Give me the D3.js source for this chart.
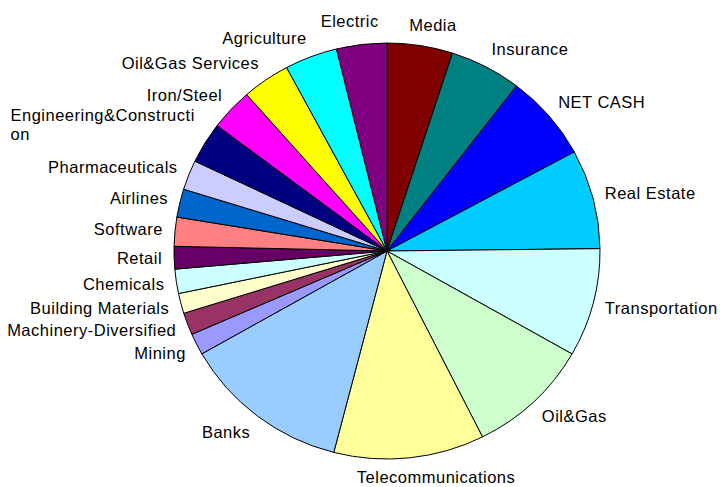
<!DOCTYPE html>
<html>
<head>
<meta charset="utf-8">
<script src="https://cdn.jsdelivr.net/npm/d3@7"></script>
<style>
  body { margin: 0; background: #fff; }
  text { font-family: "Liberation Sans", Arial, sans-serif; font-size: 16.5px; letter-spacing: 0.5px; fill: #000; }
</style>
</head>
<body>
<script>
var categories = ["Media", "Insurance", "NET CASH", "Real Estate", "Transportation", "Oil&Gas",
  "Telecommunications", "Banks", "Mining", "Machinery-Diversified", "Building Materials",
  "Chemicals", "Retail", "Software", "Airlines", "Pharmaceuticals", "Engineering&Construction",
  "Iron/Steel", "Oil&Gas Services", "Agriculture", "Electric"];
var values = [4.97, 5.44, 6.69, 7.72, 8.42, 9.36, 11.42, 12.75, 1.67, 1.72, 1.56,
  1.89, 1.75, 2.25, 2.19, 2.31, 3.19, 3.25, 3.64, 4.00, 3.81];
var colors = ["#800000", "#008080", "#0000FF", "#00CCFF", "#CCFFFF", "#CCFFCC",
  "#FFFF99", "#99CCFF", "#9999FF", "#993366", "#FFFFCC",
  "#CCFFFF", "#660066", "#FF8080", "#0066CC", "#CCCCFF", "#000080",
  "#FF00FF", "#FFFF00", "#00FFFF", "#800080"];

var width = 720, height = 487,
    cx = 387, cy = 251,
    rx = 213, ry = 208;

var svg = d3.select("body").append("svg")
    .attr("width", width)
    .attr("height", height);

var pie = d3.pie()
    .sort(null)
    .value(function(d) { return d; });

var arc = d3.arc()
    .outerRadius(rx)
    .innerRadius(0);

var arcs = pie(values);

svg.append("g")
    .attr("transform", "translate(" + cx + "," + cy + ") scale(1," + (ry / rx) + ")")
  .selectAll("path")
    .data(arcs)
  .enter().append("path")
    .attr("d", arc)
    .attr("fill", function(d, i) { return colors[i]; })
    .attr("stroke", "#000")
    .attr("stroke-width", 1)
    .attr("vector-effect", "non-scaling-stroke");

// labels: placed just outside the rim, wrapped if too wide, nudged apart on the left
var off = 12, maxW = 192, lineH = 19;

function measure(str) {
  var t = svg.append("text").text(str);
  var w = t.node().getBBox().width;
  t.remove();
  return w;
}

function wrap(str) {
  if (measure(str) <= maxW) return [str];
  var n = str.length;
  while (n > 1 && measure(str.slice(0, n)) > maxW) n--;
  return [str.slice(0, n)].concat(wrap(str.slice(n)));
}

var labels = arcs.map(function(d, i) {
  var a = (d.startAngle + d.endAngle) / 2,
      s = Math.sin(a), c = Math.cos(a);
  var lines = wrap(categories[i]);
  var w = d3.max(lines, measure),
      h = lines.length > 1 ? lines.length * lineH : 16;
  var px = cx + (rx + off) * s,
      py = cy - (ry + off) * c;
  var k = Math.max(-1, Math.min(1, s * 3));
  return {
    lines: lines, w: w, h: h, side: s < 0 ? -1 : 1,
    x: px + (w / 2) * k - w / 2,
    y: py - (h / 2) * c - h / 2
  };
});

[-1, 1].forEach(function(side) {
  var group = labels.filter(function(l) { return l.side === side; })
      .sort(function(a, b) { return b.y - a.y; });
  for (var j = 1; j < group.length; j++) {
    var below = group[j - 1], cur = group[j];
    if (cur.y + cur.h > below.y - 1) cur.y = below.y - 1 - cur.h;
  }
});

var lbl = svg.selectAll(".lbl")
    .data(labels)
  .enter().append("text")
    .attr("class", "lbl");

lbl.selectAll("tspan")
    .data(function(d) { return d.lines.map(function(t, j) { return { t: t, j: j, p: d }; }); })
  .enter().append("tspan")
    .attr("x", function(d) { return d.p.x; })
    .attr("y", function(d) { return d.p.y + 13.5 + d.j * lineH; })
    .text(function(d) { return d.t; });
</script>
</body>
</html>
